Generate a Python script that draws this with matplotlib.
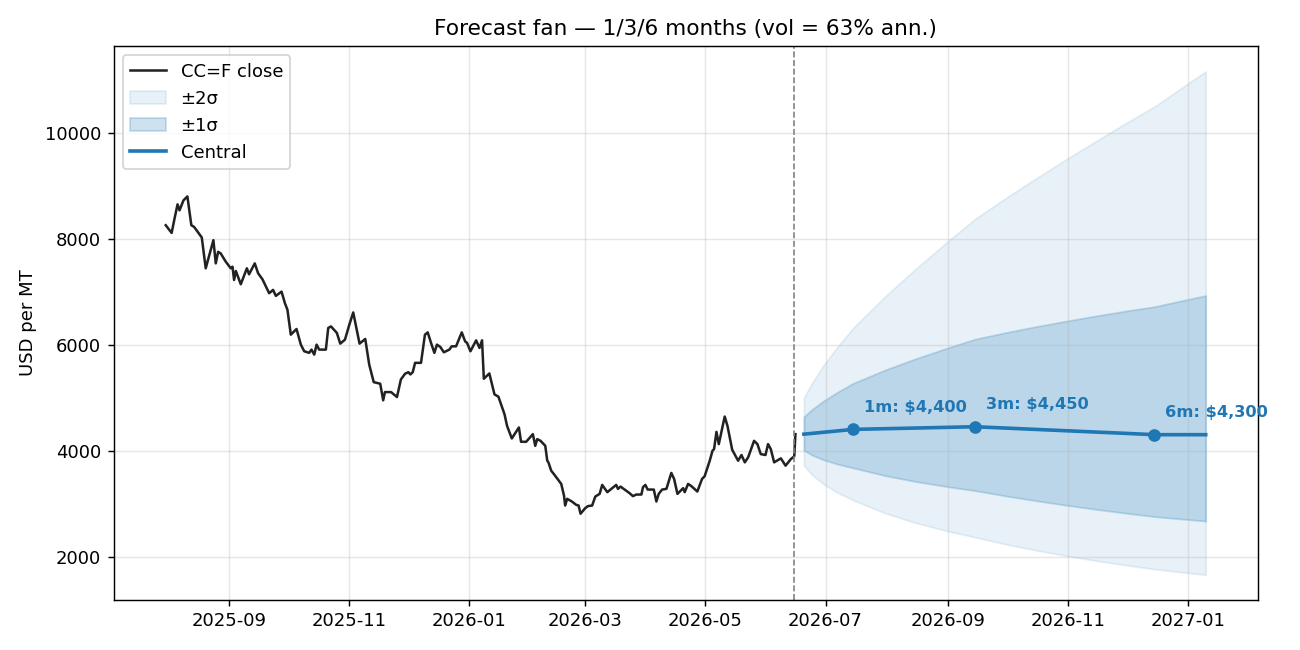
import numpy as np
import pandas as pd
import matplotlib
matplotlib.use("Agg")
import matplotlib.pyplot as plt

# historical closes, day offsets counted from 2025-09-01
hist_start = "2025-09-01"
hist_day = [-32, -29, -27.5, -26, -25, -23, -21, -19, -17.6, -13.7, -11.7, -7.8, -6.6, -5.4,
            -4.1, -1.5, 1, 1.9, 2.7, 3.6, 6.1, 9.2, 10.3, 13.2, 14.9, 17.1, 20.5, 22.5, 23.9,
            26.8, 28.5, 29.8, 31.5, 34.4, 36.6, 38.3, 40.8, 42, 43.4, 44.6, 45.9, 49.3, 50.5,
            51.9, 54.9, 56.6, 59, 61.2, 63.2, 66.4, 69.3, 71.3, 73.6, 76.9, 78.4, 79.3, 82.4,
            85.4, 87.4, 89.5, 91.2, 92.2, 93.4, 94.6, 97.6, 99.6, 101, 102.7, 104.4, 105.7,
            107.4, 109.2, 112, 113.2, 115.4, 118.3, 120, 121, 122.7, 125.6, 127.3, 128.6,
            129.5, 132.3, 134.9, 136.9, 140, 141.3, 143.7, 147.3, 148.4, 151, 154.4, 155.6,
            156.6, 158.3, 160.7, 161.7, 162.3, 163.7, 165.4, 168.8, 170.2, 170.8, 171.8,
            174.2, 176.4, 177.6, 178.6, 181, 182.4, 184.5, 186.1, 188.3, 189.6, 192.2, 194.2,
            196.7, 197.6, 198.9, 201, 203.5, 205.2, 206.9, 209.5, 210.3, 211.5, 212.7, 215.8,
            217.1, 218.3, 220, 222.2, 224.7, 226.1, 227.8, 230.7, 231.5, 233.2, 234.9, 237.9,
            240.3, 241.6, 244.2, 245.6, 246.4, 247.6, 248.8, 251.8, 253.2, 255.6, 258.6,
            260.3, 262, 263.7, 266.7, 268.4, 270.1, 272.5, 273.8, 275.2, 276.9, 280.3, 282.7,
            285.4, 287.1, 287.7]
hist_close = [8254, 8109, 8385, 8648, 8535, 8723, 8798, 8254, 8222, 8023, 7441, 7972, 7534, 7752,
              7722, 7565, 7441, 7471, 7221, 7390, 7140, 7441, 7328, 7534, 7347, 7234, 6971, 7033,
              6920, 7001, 6783, 6657, 6188, 6295, 6000, 5875, 5845, 5906, 5812, 6000, 5906, 5906,
              6314, 6344, 6220, 6019, 6094, 6376, 6607, 6019, 6107, 5625, 5292, 5262, 4949, 5104,
              5104, 5011, 5343, 5450, 5480, 5437, 5480, 5656, 5656, 6188, 6231, 6032, 5845, 6000,
              5957, 5856, 5906, 5968, 5968, 6231, 6062, 6032, 5875, 6081, 5938, 6081, 5356, 5456,
              5061, 5018, 4686, 4466, 4229, 4436, 4166, 4166, 4310, 4090, 4216, 4184, 4090, 3809,
              3778, 3621, 3540, 3371, 3151, 2963, 3089, 3039, 2976, 2963, 2808, 2914, 2952, 2963,
              3132, 3183, 3352, 3215, 3277, 3352, 3277, 3320, 3264, 3196, 3140, 3170, 3170, 3309,
              3352, 3264, 3264, 3039, 3183, 3264, 3277, 3578, 3465, 3183, 3290, 3215, 3371, 3328,
              3227, 3465, 3515, 3809, 3997, 4028, 4353, 4122, 4642, 4466, 4015, 3809, 3916, 3778,
              3872, 4184, 4122, 3934, 3916, 4122, 4028, 3778, 3853, 3715, 3840, 3891, 4310]

last_date = "2026-06-15"

# forecast fan
fc_dates = ["2026-06-20", "2026-06-24", "2026-06-30", "2026-07-07", "2026-07-15", "2026-07-31",
            "2026-08-15", "2026-09-01", "2026-09-15", "2026-10-01", "2026-10-15", "2026-11-01",
            "2026-11-15", "2026-12-01", "2026-12-15", "2026-12-28", "2027-01-10"]
fc_central = [4310, 4324, 4346, 4371, 4400, 4413, 4425, 4439, 4450, 4424, 4401, 4373,
              4350, 4324, 4300, 4300, 4300]
fc_up1 = [4640, 4774, 4938, 5102, 5271, 5519, 5725, 5939, 6105, 6232, 6335, 6451,
          6541, 6639, 6717, 6823, 6926]
fc_lo1 = [4004, 3917, 3825, 3745, 3673, 3529, 3420, 3318, 3243, 3140, 3058, 2964,
          2893, 2816, 2753, 2710, 2670]
fc_up2 = [4995, 5270, 5611, 5956, 6314, 6902, 7406, 7947, 8377, 8779, 9118, 9517,
          9836, 10193, 10494, 10827, 11156]
fc_lo2 = [3719, 3548, 3366, 3208, 3066, 2822, 2644, 2479, 2364, 2229, 2124, 2009,
          1924, 1834, 1762, 1708, 1657]

pt_labels = ["1m", "3m", "6m"]
pt_dates = ["2026-07-15", "2026-09-15", "2026-12-15"]
pt_values = [4400, 4450, 4300]

blue = "#1f77b4"

hist_x = pd.Timestamp(hist_start) + pd.to_timedelta(hist_day, unit="D")
fx = pd.to_datetime(fc_dates)
px = pd.to_datetime(pt_dates)

fig, ax = plt.subplots(figsize=(10, 5), dpi=130)

ax.plot(hist_x, hist_close, color="#222222", lw=1.4, label="CC=F close")
ax.axvline(pd.Timestamp(last_date), color="gray", ls="--", lw=0.9)
ax.fill_between(fx, fc_lo2, fc_up2, color=blue, alpha=0.1, label="\u00b12\u03c3")
ax.fill_between(fx, fc_lo1, fc_up1, color=blue, alpha=0.22, label="\u00b11\u03c3")
ax.plot(fx, fc_central, color=blue, lw=2.0, label="Central")
ax.plot(px, pt_values, "o", color=blue, ms=6)

for lab, d, v in zip(pt_labels, px, pt_values):
    ax.annotate(f"{lab}: ${v:,.0f}", (d, v), xytext=(6, 8), textcoords="offset points",
                color=blue, fontsize=9, fontweight="bold", ha="left", va="bottom")

ax.set_title("Forecast fan \u2014 1/3/6 months (vol = 63% ann.)")
ax.set_ylabel("USD per MT")
ax.grid(True, alpha=0.3)
ax.legend(loc="upper left")

fig.tight_layout()
fig.savefig("out.png")
